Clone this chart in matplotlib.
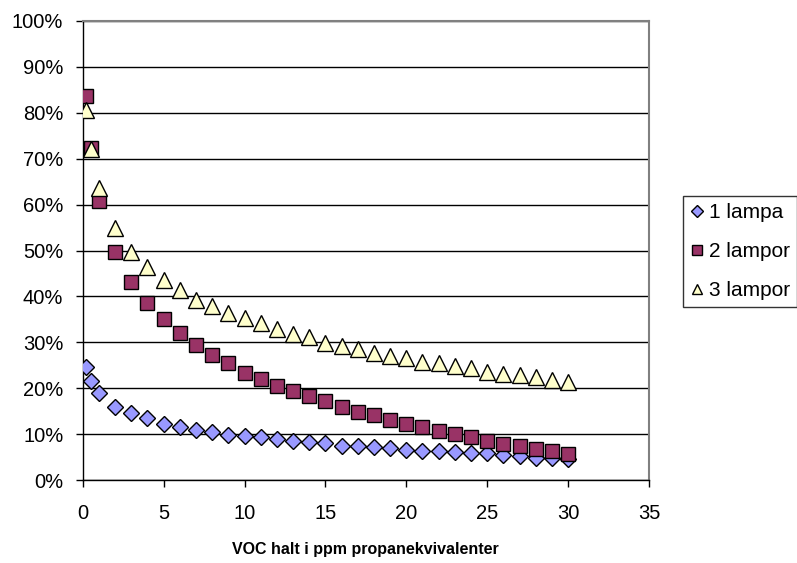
import matplotlib
matplotlib.use("Agg")
import matplotlib.pyplot as plt
from matplotlib.ticker import FuncFormatter, MultipleLocator

plt.rcParams['font.family'] = ['Liberation Sans', 'DejaVu Sans']

# VOC concentration (ppm propane equivalents)
voc = [0.2, 0.5, 1, 2, 3, 4, 5, 6, 7, 8, 9, 10, 11, 12, 13, 14, 15, 16,
       17, 18, 19, 20, 21, 22, 23, 24, 25, 26, 27, 28, 29, 30]

# share in percent for each number of lamps
lampa_1 = [24.7, 21.6, 19.0, 16.0, 14.5, 13.4, 12.3, 11.5, 10.9, 10.4, 9.9,
           9.6, 9.3, 8.9, 8.6, 8.3, 8.0, 7.5, 7.4, 7.1, 6.9, 6.6, 6.4, 6.3,
           6.0, 5.9, 5.8, 5.5, 5.2, 4.9, 4.7, 4.6]
lampor_2 = [83.7, 72.3, 60.8, 49.7, 43.2, 38.6, 35.0, 32.0, 29.4, 27.2, 25.4,
            23.4, 22.0, 20.5, 19.4, 18.3, 17.2, 16.0, 14.9, 14.2, 13.1, 12.2,
            11.5, 10.7, 10.1, 9.4, 8.6, 7.8, 7.4, 6.8, 6.4, 5.6]
lampor_3 = [80.6, 72.1, 63.6, 54.8, 49.7, 46.3, 43.6, 41.4, 39.2, 37.8, 36.3,
            35.2, 34.1, 33.0, 31.8, 31.1, 29.9, 29.2, 28.5, 27.6, 27.0, 26.5,
            25.8, 25.4, 24.8, 24.3, 23.6, 23.2, 22.9, 22.5, 21.8, 21.4]

labels = ["1 lampa", "2 lampor", "3 lampor"]

fig = plt.figure(figsize=(7.97, 5.63), dpi=100)
ax = fig.add_axes([82.7 / 797, 1 - 480 / 563, (649 - 82.7) / 797, (480 - 21) / 563])

ax.plot(voc, lampa_1, linestyle="none", marker="D", markersize=8.5,
        markerfacecolor="#9999FF", markeredgecolor="black", markeredgewidth=1.0,
        label=labels[0], zorder=3)
ax.plot(voc, lampor_2, linestyle="none", marker="s", markersize=9.5,
        markerfacecolor="#993366", markeredgecolor="black", markeredgewidth=1.0,
        label=labels[1], zorder=4)
ax.plot(voc, lampor_3, linestyle="none", marker="^", markersize=11,
        markerfacecolor="#FFFFCC", markeredgecolor="black", markeredgewidth=1.0,
        label=labels[2], zorder=5)

ax.set_xlim(0, 35)
ax.set_ylim(0, 100)
ax.xaxis.set_major_locator(MultipleLocator(5))
ax.yaxis.set_major_locator(MultipleLocator(10))
ax.yaxis.set_major_formatter(FuncFormatter(lambda v, p: f"{v:.0f}%"))

ax.grid(axis="y", color="black", linewidth=1.0)
ax.set_axisbelow(True)
for side in ("top", "right"):
    ax.spines[side].set_color("#808080")
    ax.spines[side].set_linewidth(1.5)
for side in ("left", "bottom"):
    ax.spines[side].set_color("black")
    ax.spines[side].set_linewidth(1.0)

ax.tick_params(axis="both", direction="out", length=5, width=1.0,
               labelsize=14.5, colors="black")
ax.tick_params(axis="y", pad=9)
ax.tick_params(axis="x", pad=12)

ax.set_xlabel("VOC halt i ppm propanekvivalenter", fontsize=11.5,
              fontweight="bold", labelpad=14)

leg = fig.legend(loc="upper left", bbox_to_anchor=(683 / 797, 1 - 196 / 563),
                 frameon=True, fancybox=False, fontsize=15,
                 handlelength=0.6, handletextpad=0.3, labelspacing=0.95,
                 borderpad=0.35, borderaxespad=0, markerscale=0.7)
leg.get_frame().set_edgecolor("black")
leg.get_frame().set_linewidth(1.0)

fig.savefig("out.png", dpi=100)
